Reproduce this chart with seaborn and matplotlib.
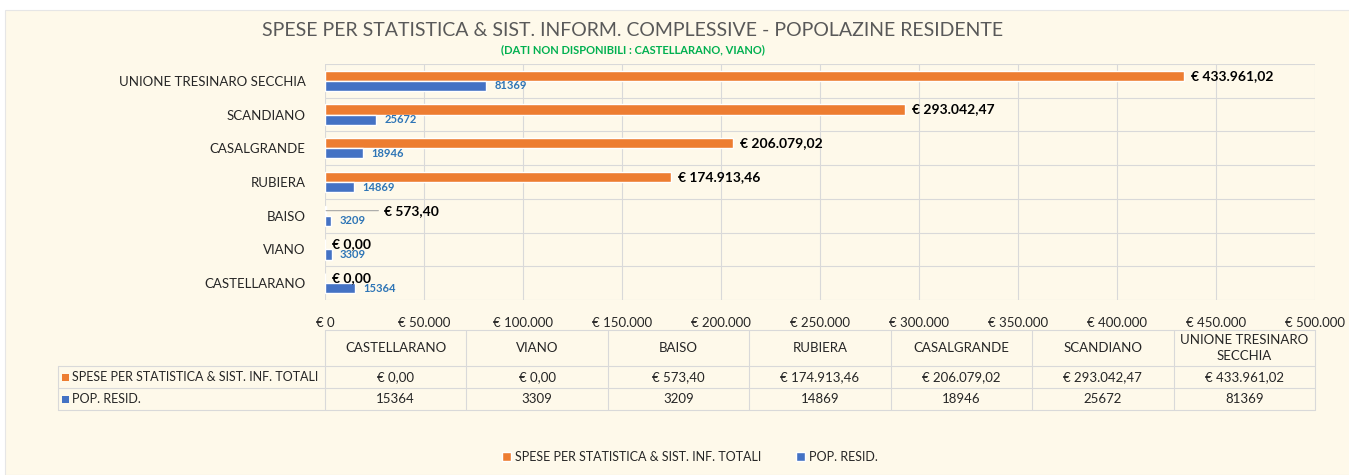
import numpy as np
import pandas as pd
import matplotlib
matplotlib.use("Agg")
import matplotlib.pyplot as plt
from matplotlib.patches import Rectangle
from matplotlib.ticker import FuncFormatter
import seaborn as sns

# data (top to bottom as in the chart)
comuni = ["UNIONE TRESINARO SECCHIA", "SCANDIANO", "CASALGRANDE", "RUBIERA",
          "BAISO", "VIANO", "CASTELLARANO"]
spese = [433961.02, 293042.47, 206079.02, 174913.46, 573.40, 0.00, 0.00]
popolazione = [81369, 25672, 18946, 14869, 3209, 3309, 15364]
serie = ["SPESE PER STATISTICA & SIST. INF. TOTALI", "POP. RESID."]
tab_header = ["CASTELLARANO", "VIANO", "BAISO", "RUBIERA", "CASALGRANDE",
              "SCANDIANO", "UNIONE TRESINARO\nSECCHIA"]

ORANGE = "#ED7D31"
BLUE = "#4472C4"
BG = "#FEF9EA"
GRID = "#D9D9D9"
TXT = "#262626"


def euro(v, dec=2):
    s = f"{v:,.{dec}f}".replace(",", "X").replace(".", ",").replace("X", ".")
    return "€ " + s


df = pd.DataFrame({
    "comune": comuni * 2,
    "valore": spese + popolazione,
    "serie": [serie[0]] * len(comuni) + [serie[1]] * len(comuni),
})

sns.set_theme(style="white")
plt.rcParams["font.family"] = ["Lato", "DejaVu Sans"]

W, H = 1349, 475
fig = plt.figure(figsize=(W / 100, H / 100), dpi=100, facecolor="white")
fig.patches.append(Rectangle((5 / W, 0), 1, 1 - 10 / H, transform=fig.transFigure,
                             facecolor=BG, edgecolor="#E6E6E6", lw=0.8, zorder=-10))

ax = fig.add_axes([325 / W, 1 - 300 / H, 990 / W, 236 / H])
ax.set_facecolor(BG)
sns.barplot(data=df, y="comune", x="valore", hue="serie", order=comuni,
            hue_order=serie, palette=[ORANGE, BLUE], orient="h", width=0.6,
            saturation=1, ax=ax, legend=True)

ax.set_xlim(0, 500000)
ax.set_xticks(np.arange(0, 500001, 50000))
ax.xaxis.set_major_formatter(FuncFormatter(lambda v, p: euro(v, 0)))
ax.set_yticks(np.arange(-0.5, len(comuni), 1), minor=True)
ax.grid(True, axis="x", color=GRID, lw=0.8)
ax.grid(True, axis="y", which="minor", color=GRID, lw=0.8)
ax.set_axisbelow(True)
for s in ax.spines.values():
    s.set_visible(False)
ax.tick_params(axis="both", which="both", length=0)
ax.tick_params(axis="x", labelsize=9.5, labelcolor=TXT, pad=12)
ax.tick_params(axis="y", labelsize=9.5, labelcolor=TXT, pad=14)
ax.set_xlabel("")
ax.set_ylabel("")

# value labels
cont_sp, cont_pop = ax.containers[0], ax.containers[1]
lab_sp = [euro(v) if c != "BAISO" else "" for c, v in zip(comuni, spese)]
ax.bar_label(cont_sp, labels=lab_sp, padding=5, fontsize=10, fontweight="bold", color="black")
ax.bar_label(cont_pop, labels=[str(v) for v in popolazione], padding=6,
             fontsize=8, fontweight="bold", color="#2E75B6")
bi = comuni.index("BAISO")
bar = cont_sp[bi]
yb = bar.get_y() + bar.get_height() / 2
ax.annotate(euro(spese[bi]), xy=(spese[bi], yb), xytext=(42, 0), textcoords="offset points",
            fontsize=10, fontweight="bold", color="black", va="center",
            arrowprops=dict(arrowstyle="-", color="#A6A6A6", lw=0.8, shrinkB=0))

# legend
h, l = ax.get_legend_handles_labels()
ax.get_legend().remove()
fig.legend(h, l, loc="center", bbox_to_anchor=(690 / W, 1 - 457 / H), ncol=2, frameon=False,
           fontsize=9, handlelength=0.7, handleheight=0.7, columnspacing=2.8,
           handletextpad=0.3, labelcolor=TXT)

# title
fig.text(633 / W, 1 - 30 / H, "SPESE PER STATISTICA & SIST. INFORM. COMPLESSIVE - POPOLAZINE RESIDENTE",
         ha="center", va="center", fontsize=14, color="#595959")
fig.text(633 / W, 1 - 50 / H, "(DATI NON DISPONIBILI : CASTELLARANO, VIANO)",
         ha="center", va="center", fontsize=8, fontweight="bold", color="#00B050")

# data table
tx = fig.add_axes([0, 0, 1, 1], facecolor="none")
tx.set_xlim(0, W)
tx.set_ylim(H, 0)
tx.axis("off")
xs = np.linspace(325, 1315, len(tab_header) + 1)
ys = [330, 366, 388, 410]
for y in ys:
    tx.plot([325 if y == ys[0] else 58, 1315], [y, y], color=GRID, lw=0.8)
for x in xs:
    tx.plot([x, x], [ys[0], ys[-1]], color=GRID, lw=0.8)
tx.plot([58, 58], [ys[1], ys[-1]], color=GRID, lw=0.8)

row_vals = [[euro(v) for v in spese[::-1]], [str(v) for v in popolazione[::-1]]]
for j, name in enumerate(tab_header):
    cx = (xs[j] + xs[j + 1]) / 2
    tx.text(cx, (ys[0] + ys[1]) / 2, name, ha="center", va="center", fontsize=9.5,
            color=TXT, linespacing=1.3)
    for r in range(2):
        tx.text(cx, (ys[r + 1] + ys[r + 2]) / 2, row_vals[r][j], ha="center", va="center",
                fontsize=9.5, color=TXT)
for r, (name, col) in enumerate(zip(serie, [ORANGE, BLUE])):
    yc = (ys[r + 1] + ys[r + 2]) / 2
    tx.add_patch(Rectangle((62, yc - 3.5), 7, 7, facecolor=col, edgecolor="none"))
    tx.text(72, yc, name, ha="left", va="center", fontsize=9, color=TXT)

fig.savefig("out.png", dpi=100, facecolor=fig.get_facecolor())
